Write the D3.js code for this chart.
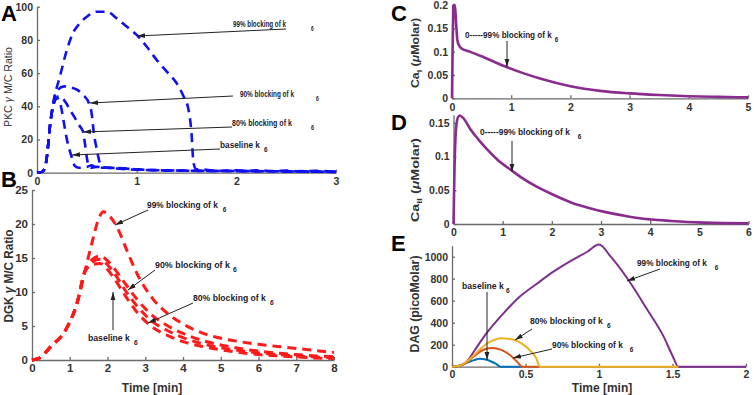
<!DOCTYPE html>
<html>
<head>
<meta charset="utf-8">
<script src="https://cdn.jsdelivr.net/npm/d3@7"></script>
<style>
body { margin: 0; background: #fff; }
svg { font-family: "Liberation Sans", Arial, sans-serif; }
.tick text { fill: #333; font-weight: bold; }
.domain, .tick line { stroke: #6a6a6a; stroke-width: 1.3; }
.note { font-weight: bold; fill: #1c1c2c; }
.letter { font-weight: bold; font-size: 22px; fill: #000; }
.ytitle { font-weight: bold; fill: #333; }
</style>
</head>
<body>
<div id="container"></div>
<script>
// ---- panel A : PKC gamma M/C ratio (blue dashed)
var pkcTime99 = [0,0.05,0.08,0.1,0.13,0.17,0.23,0.3,0.36,0.43,0.5,0.6,0.7,0.8,0.9,1.0,1.1,1.2,1.3,1.4,1.47,1.52,1.55,1.57,1.6,1.7,1.8,2.0,2.1,2.2,2.4,2.5,2.6,2.8,3.0];
var pkcVal99  = [0,0.5,3,10,28,44,58,74,84,90,94,97,97,93,88,83,76,68,61,54,46,38,24,6,2,1.8,1.2,1.5,1.0,1.4,1.0,1.3,0.9,1.1,0.6];
var pkcTime90 = [0,0.05,0.08,0.1,0.13,0.17,0.21,0.27,0.33,0.4,0.46,0.52,0.55,0.57,0.6,0.63,0.66,0.7,0.8,0.9,1.0,1.2,1.5,2,2.5,3];
var pkcVal90  = [0,0.5,3,10,28,44,50,52,51.5,50,47,42,35,24,14,6,3.5,3,2.8,2.5,2,1.5,1.2,1,0.8,0.5];
var pkcTime80 = [0,0.05,0.08,0.1,0.13,0.17,0.22,0.28,0.33,0.38,0.43,0.46,0.48,0.5,0.52,0.55,0.6,0.7,0.8,1,1.5,2,2.5,3];
var pkcVal80  = [0,0.5,3,10,28,42,46,43,38,33,28,25,18,9,4,3,3.5,3,2.8,2,1.2,1,0.8,0.5];
var pkcTimeBase = [0,0.05,0.08,0.1,0.13,0.17,0.2,0.24,0.27,0.3,0.33,0.35,0.38,0.42,0.5,0.55,0.6,0.7,0.8,1,1.5,2,2.5,3];
var pkcValBase  = [0,0.5,3,10,28,42,45,40,30,20,13,9,4,3,3.5,4.5,3,3,2.5,1.8,1.2,1,0.8,0.5];

// ---- panel B : DGK gamma M/C ratio (red dashed)
var dgkTime99 = [0,0.2,0.5,0.9,1.2,1.4,1.6,1.75,1.89,2.05,2.3,2.5,2.8,3.2,3.6,4,4.5,5,5.5,6,6.5,7,7.5,8];
var dgkVal99  = [0,0.3,2,4.5,8.5,13,17.5,20.5,21.8,21.2,19,16.3,12.5,9,6.8,5.3,4,3.2,2.7,2.3,2,1.7,1.4,1.1];
var dgkTime   = [0,0.2,0.5,0.9,1.2,1.4,1.6,1.8,2.0,2.2,2.5,2.8,3.2,3.6,4,4.5,5,5.5,6,6.5,7,7.5,8];
var dgkVal90  = [0,0.3,2,4.5,8.5,13,14.8,15.3,14.6,13.3,11,8.8,6.5,5,3.9,2.9,2.2,1.7,1.3,1,0.8,0.6,0.5];
var dgkVal80  = [0,0.3,2,4.5,8.5,13,14.4,14.8,14,12.6,10,7.8,5.6,4.3,3.3,2.4,1.8,1.4,1.05,0.8,0.6,0.45,0.35];
var dgkValBase= [0,0.3,2,4.5,8.5,13,14,14.2,13.3,11.8,9.2,6.9,4.8,3.6,2.7,2,1.5,1.1,0.8,0.6,0.45,0.3,0.2];

// ---- panel C : Ca_I
var caITime = [0,0.01,0.03,0.05,0.07,0.09,0.12,0.15,0.3,0.5,0.7,0.9,1.2,1.5,2,2.5,3,3.5,4,4.5,5];
var caIVal  = [0,0.1,0.2,0.2,0.16,0.125,0.113,0.108,0.1,0.09,0.079,0.068,0.054,0.042,0.026,0.016,0.0105,0.007,0.0045,0.003,0.002];

// ---- panel D : Ca_II
var caIITime = [0,0.02,0.05,0.09,0.13,0.2,0.34,0.5,0.68,0.9,1.19,1.4,1.7,2.04,2.39,2.7,3.07,3.5,3.75,4.43,5.11,6];
var caIIVal  = [0,0.08,0.14,0.158,0.161,0.157,0.141,0.126,0.111,0.095,0.079,0.068,0.055,0.043,0.032,0.025,0.018,0.012,0.009,0.0045,0.002,0.001];

// ---- panel E : DAG
var dagTime99 = [0,0.05,0.1,0.15,0.2,0.25,0.3,0.35,0.46,0.58,0.69,0.8,0.92,1.0,1.08,1.2,1.33,1.44,1.5,1.54,2];
var dagVal99  = [0,8,45,140,240,330,410,485,636,757,864,955,1045,1110,1000,788,515,273,100,0,0];
var dagTime80 = [0,0.05,0.1,0.15,0.2,0.25,0.3,0.33,0.38,0.43,0.48,0.53,0.57,0.6,1.54];
var dagVal80  = [0,8,45,105,170,220,250,258,255,240,205,150,85,0,0];
var dagTime90 = [0,0.05,0.1,0.15,0.2,0.25,0.28,0.33,0.38,0.42,0.45,0.475,0.6];
var dagVal90  = [0,8,40,95,145,168,170,155,120,75,35,0,0];
var dagTimeBase = [0,0.05,0.1,0.15,0.19,0.23,0.27,0.3,0.33,0.48];
var dagValBase  = [0,8,35,60,72,65,45,25,0,0];

var svg = d3.select("#container").append("svg")
    .attr("width", 754)
    .attr("height", 395);

svg.append("defs").append("marker")
    .attr("id", "arrow")
    .attr("viewBox", "0 0 10 10")
    .attr("refX", 10).attr("refY", 5)
    .attr("markerUnits", "userSpaceOnUse")
    .attr("markerWidth", 8).attr("markerHeight", 8)
    .attr("orient", "auto")
  .append("path")
    .attr("d", "M0,2 L10,5 L0,8 Z")
    .attr("fill", "#222");

var fmt = d3.format("~g");

function panel(xDom, xRng, yDom, yRng, xTicks, yTicks, fs, pad) {
    var x = d3.scaleLinear().domain(xDom).range(xRng);
    var y = d3.scaleLinear().domain(yDom).range(yRng);
    var g = svg.append("g");
    g.append("g")
        .attr("transform", "translate(0," + yRng[0] + ")")
        .call(d3.axisBottom(x).tickValues(xTicks).tickSize(-3).tickSizeOuter(0).tickPadding(pad || 5).tickFormat(fmt))
        .selectAll("text").style("font-size", fs + "px");
    g.append("g")
        .attr("transform", "translate(" + xRng[0] + ",0)")
        .call(d3.axisLeft(y).tickValues(yTicks).tickSize(-3).tickSizeOuter(0).tickPadding(4).tickFormat(fmt))
        .selectAll("text").style("font-size", fs + "px");
    return { x: x, y: y, g: g };
}

function curve(p, ts, vs, color, w, dash) {
    var line = d3.line()
        .x(function(d) { return p.x(d[0]); })
        .y(function(d) { return p.y(d[1]); })
        .curve(d3.curveMonotoneX);
    p.g.append("path")
        .datum(d3.zip(ts, vs))
        .attr("d", line)
        .attr("fill", "none")
        .attr("stroke", color)
        .attr("stroke-width", w)
        .attr("stroke-dasharray", dash || null)
        .attr("stroke-linejoin", "round");
}

// label squeezed to width tw, subscript "6" placed at sx
function note(label, tx, ty, tw, sx, x1, y1, x2, y2) {
    var t = svg.append("text").attr("class", "note")
        .style("font-size", "8.5px");
    var main = t.append("tspan").text(label);
    var len = main.node().getComputedTextLength();
    var k = tw / len;
    t.attr("transform", "translate(" + tx + "," + ty + ") scale(" + k + ",1)");
    t.append("tspan")
        .attr("dx", (sx - tx) / k - len)
        .attr("dy", 4)
        .style("font-size", "6.5px")
        .text("6");
    svg.append("line")
        .attr("x1", x1).attr("y1", y1).attr("x2", x2).attr("y2", y2)
        .attr("stroke", "#222").attr("stroke-width", 1)
        .attr("marker-end", "url(#arrow)");
}

function ytitle(parts, cx, cy, fs, len, weight) {
    var t = svg.append("text").attr("class", "ytitle")
        .attr("transform", "translate(" + cx + "," + cy + ") rotate(-90)")
        .attr("text-anchor", "middle")
        .style("font-size", fs + "px")
        .style("font-weight", weight || null);
    parts.forEach(function(p) {
        t.append("tspan").text(p.t)
            .attr("dy", p.dy || 0)
            .style("font-size", p.fs ? p.fs + "px" : null)
            .style("font-style", p.it ? "italic" : null);
    });
    if (len) t.attr("textLength", len).attr("lengthAdjust", "spacingAndGlyphs");
}

// A
var pA = panel([0, 3], [37, 336], [0, 100], [172.7, 6.7], [0, 1, 2, 3], [0, 20, 40, 60, 80, 100], 10.5);
var dashA = "9,6";
curve(pA, pkcTimeBase, pkcValBase, "#1010f0", 2.6, dashA);
curve(pA, pkcTime80, pkcVal80, "#1010f0", 2.6, dashA);
curve(pA, pkcTime90, pkcVal90, "#1010f0", 2.6, dashA);
curve(pA, pkcTime99, pkcVal99, "#1010f0", 2.6, dashA);

// B
var pB = panel([0, 8], [32, 334], [0, 25], [360, 190], [0, 1, 2, 3, 4, 5, 6, 7, 8], [0, 5, 10, 15, 20, 25], 11.5, 4);
var dashB = "9,6";
curve(pB, dgkTime, dgkValBase, "#ff1a1a", 3, dashB);
curve(pB, dgkTime, dgkVal80, "#ff1a1a", 3, dashB);
curve(pB, dgkTime, dgkVal90, "#ff1a1a", 3, dashB);
curve(pB, dgkTime99, dgkVal99, "#ff1a1a", 3, dashB);

// C
var pC = panel([0, 5], [452, 748], [0, 0.2], [98.3, 5], [0, 1, 2, 3, 4, 5], [0, 0.05, 0.1, 0.15, 0.2], 10.5);
curve(pC, caITime, caIVal, "#8a2b8e", 2.6);

// D
var pD = panel([0, 6], [453.5, 748.5], [0, 0.162], [224, 114.8], [0, 1, 2, 3, 4, 5, 6], [0, 0.05, 0.1, 0.15], 10.5);
curve(pD, caIITime, caIIVal, "#8a2b8e", 2.6);

// E
var pE = panel([0, 2], [452, 746], [0, 1100], [366.7, 245.7], [0, 0.5, 1, 1.5, 2], [0, 200, 400, 600, 800, 1000], 10.5, 4);
curve(pE, dagTime99, dagVal99, "#7e2f8e", 2);
curve(pE, dagTimeBase, dagValBase, "#0072bd", 2);
curve(pE, dagTime90, dagVal90, "#d95319", 2);
curve(pE, dagTime80, dagVal80, "#edb120", 2);

// panel letters
[["A", 1, 21], ["B", 1, 187], ["C", 391, 21], ["D", 391, 130], ["E", 391, 251]].forEach(function(l) {
    svg.append("text").attr("class", "letter").attr("x", l[1]).attr("y", l[2]).text(l[0]);
});

// axis titles
ytitle([{ t: "PKC " }, { t: "\u03b3", it: true }, { t: " M/C Ratio" }], 12, 87, 10, 80, "normal");
ytitle([{ t: "DGK " }, { t: "\u03b3", it: true }, { t: " M/C Ratio" }], 13, 276, 12, 93);
ytitle([{ t: "Ca" }, { t: "I", fs: 8, dy: 3 }, { t: " (", dy: -3 }, { t: "\u03bc", it: true }, { t: "Molar)" }], 419, 53, 11, 70);
ytitle([{ t: "Ca" }, { t: "II", fs: 8, dy: 3 }, { t: " (", dy: -3 }, { t: "\u03bc", it: true }, { t: "Molar)" }], 419, 180, 11, 84);
ytitle([{ t: "DAG (picoMolar)" }], 419, 304, 12, 97);

svg.append("text").attr("class", "ytitle").attr("x", 152).attr("y", 392)
    .attr("text-anchor", "middle").style("font-size", "12px").text("Time [min]");
svg.append("text").attr("class", "ytitle").attr("x", 602).attr("y", 392)
    .attr("text-anchor", "middle").style("font-size", "12px").text("Time [min]");

// annotations A
note("99% blocking of k", 233, 27, 53, 311, 286, 29, 137, 36);
note("90% blocking of k", 240, 97, 54, 316, 233, 96, 90, 103);
note("80% blocking of k", 232, 125.5, 60, 311, 232, 127, 83, 132);
note("baseline k", 220, 148, 40, 264, 220, 149, 72, 155);
// annotations B
note("99% blocking of k", 147, 208, 71, 223, 148, 210, 115, 225);
note("90% blocking of k", 155, 268, 75, 233, 155, 270, 128, 290);
note("80% blocking of k", 193, 301, 73, 270, 193, 303, 148, 323);
note("baseline k", 88, 341, 42, 134, 113, 330, 113, 292);
// annotations C, D
note("0-----99% blocking of k", 465, 38, 87, 555, 507, 41, 507, 67);
note("0-----99% blocking of k", 480, 135, 90, 578, 512, 141, 512, 172);
// annotations E
note("99% blocking of k", 637, 266, 70, 715, 660, 269, 627, 281);
note("baseline k", 462, 289, 42, 506, 487, 292, 487, 360);
note("80% blocking of k", 530, 323.5, 73, 607, 532, 329, 515, 340);
note("90% blocking of k", 552, 347.5, 71, 630, 552, 349, 513, 358);
</script>
</body>
</html>
